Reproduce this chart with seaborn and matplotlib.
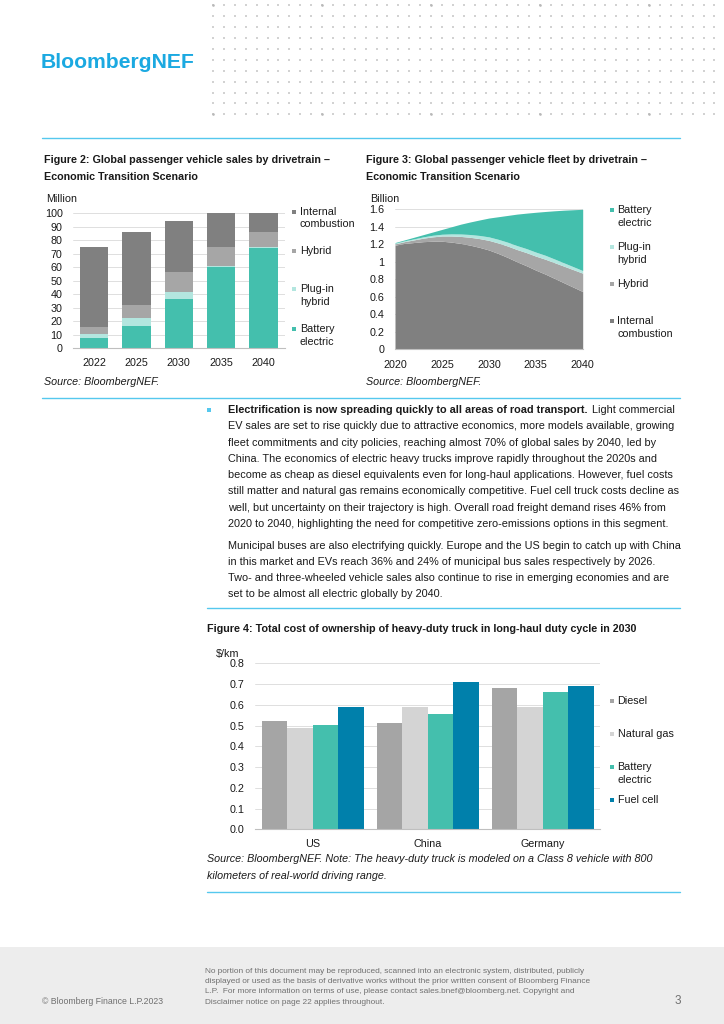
import matplotlib
matplotlib.use("Agg")
import matplotlib.pyplot as plt
from matplotlib.ticker import FuncFormatter, MultipleLocator
import numpy as np
import pandas as pd
import seaborn as sns

# ---- data ----
# Figure 2: global passenger vehicle sales (million)
sales_years = ['2022', '2025', '2030', '2035', '2040']
sales_bev = [7.8, 16.5, 36.6, 60.5, 74.6]
sales_phev = [2.6, 5.8, 5.0, 0.3, 0.2]
sales_hybrid = [5.4, 9.5, 14.6, 14.0, 11.2]
sales_ice = [59.0, 54.0, 38.0, 25.5, 14.0]

# Figure 3: global passenger vehicle fleet (billion)
fleet_years = [2020, 2021, 2022, 2023, 2024, 2025, 2026, 2027, 2028, 2029, 2030,
               2031, 2032, 2033, 2034, 2035, 2036, 2037, 2038, 2039, 2040]
fleet_ice = [1.19, 1.21, 1.22, 1.23, 1.235, 1.235, 1.225, 1.21, 1.19, 1.165, 1.135,
             1.095, 1.05, 1.0, 0.955, 0.905, 0.86, 0.81, 0.76, 0.71, 0.66]
fleet_hybrid = [0.015, 0.02, 0.03, 0.04, 0.05, 0.06, 0.07, 0.08, 0.09, 0.1, 0.11,
                0.12, 0.13, 0.14, 0.15, 0.16, 0.17, 0.18, 0.19, 0.2, 0.21]
fleet_phev = [0.008, 0.01, 0.012, 0.015, 0.018, 0.02, 0.024, 0.028, 0.032, 0.036, 0.04,
              0.042, 0.044, 0.045, 0.046, 0.046, 0.045, 0.042, 0.038, 0.034, 0.03]
fleet_bev = [0.007, 0.01, 0.018, 0.025, 0.037, 0.055, 0.081, 0.112, 0.143, 0.177, 0.215,
             0.258, 0.306, 0.36, 0.405, 0.455, 0.5, 0.551, 0.602, 0.651, 0.7]

# Figure 4: heavy-duty truck TCO in 2030 ($/km)
tco_countries = ['US', 'China', 'Germany']
tco_drivetrains = ['Diesel', 'Natural gas', 'Battery electric', 'Fuel cell']
tco_diesel = [0.524, 0.514, 0.681]
tco_gas = [0.488, 0.590, 0.590]
tco_bev = [0.501, 0.554, 0.660]
tco_fcev = [0.590, 0.708, 0.691]

# colours
C_BEV, C_PHEV, C_HYB, C_ICE = '#44BFAD', '#B3E6DF', '#A6A6A6', '#808080'
C_DIESEL, C_GAS, C_FC = '#A5A5A5', '#D4D4D4', '#0080AB'
C_CYAN = '#55C8EE'
C_TXT = '#1A1A1A'
C_GRID = '#D9D9D9'

sns.set_theme(style='white')
plt.rcParams['font.family'] = ['Liberation Sans', 'DejaVu Sans']

W, H = 724, 1024
fig = plt.figure(figsize=(7.24, 10.24), dpi=100)


def box(x, y, w, h):
    # pixel box (top-left origin) -> figure fraction
    return [x / W, 1 - (y + h) / H, w / W, h / H]


# background axes in pixel coordinates for page decoration
bg = fig.add_axes([0, 0, 1, 1], zorder=-5)
bg.set_xlim(0, W)
bg.set_ylim(H, 0)
bg.axis('off')

# dotted header pattern
gx = 213 + 10.9 * np.arange(48)
gy = 5.3 + 10.9 * np.arange(11)
xx, yy = np.meshgrid(gx, gy)
bg.scatter(xx.ravel(), yy.ravel(), s=0.6, marker='s', color='#D2D2D2', linewidths=0)
bx = gx[::10]
bg.scatter(np.concatenate([bx, bx]), np.concatenate([np.full(len(bx), gy[0]), np.full(len(bx), gy[-1])]),
           s=3.5, marker='o', color='#B8B8B8', linewidths=0)

bg.text(41, 62, 'BloombergNEF', fontsize=15.2, weight='bold', color='#1BA9E1', va='center', ha='left')

# rules
bg.plot([42, 680], [138, 138], color=C_CYAN, lw=1)
bg.plot([42, 680], [398, 398], color=C_CYAN, lw=1)
bg.plot([207, 680], [607.5, 607.5], color=C_CYAN, lw=1)
bg.plot([207, 680], [892, 892], color=C_CYAN, lw=1)

# footer band
bg.fill_between([0, W], 947, H, color='#EDEDED', linewidth=0)
bg.text(42, 1002, '© Bloomberg Finance L.P.2023', fontsize=6.3, color='#707070', va='center')
disclaimer = ['No portion of this document may be reproduced, scanned into an electronic system, distributed, publicly',
              'displayed or used as the basis of derivative works without the prior written consent of Bloomberg Finance',
              'L.P.  For more information on terms of use, please contact sales.bnef@bloomberg.net. Copyright and',
              'Disclaimer notice on page 22 applies throughout.']
for i, line in enumerate(disclaimer):
    bg.text(205, 971.5 + 10.2 * i, line, fontsize=5.95, color='#707070', va='center')
bg.text(681, 1001, '3', fontsize=8.5, color='#707070', va='center', ha='right')

TFS = 7.75  # figure title size
BFS = 7.8   # body text size
LFS = 7.75  # tick / legend size


def title(x, y, lines):
    for i, s in enumerate(lines):
        bg.text(x, y + 17 * i, s, fontsize=TFS, weight='bold', color=C_TXT, va='center')


def legend(x, entries):
    for y, label, col in entries:
        bg.scatter([x + 2], [y], s=10, marker='s', color=col, linewidths=0)
        for k, part in enumerate(label.split('\n')):
            bg.text(x + 8, y + 12.6 * k, part, fontsize=LFS, color=C_TXT, va='center')


def style_axes(ax):
    sns.despine(ax=ax, left=True)
    ax.spines['bottom'].set_color('#BFBFBF')
    ax.spines['bottom'].set_linewidth(0.8)
    ax.yaxis.grid(True, color=C_GRID, lw=0.6)
    ax.set_axisbelow(True)
    ax.set_xlabel('')
    ax.set_ylabel('')
    ax.tick_params(axis='y', length=0, labelsize=LFS, labelcolor=C_TXT, pad=7.5)
    ax.tick_params(axis='x', which='both', labelsize=LFS, labelcolor=C_TXT, color='#BFBFBF')


# ---- Figure 2: stacked bars ----
title(44, 160, ['Figure 2: Global passenger vehicle sales by drivetrain –', 'Economic Transition Scenario'])
bg.text(46, 198.5, 'Million', fontsize=LFS, color=C_TXT, va='center')
ax2 = fig.add_axes(box(73, 213.3, 211.5, 135))
stack = np.cumsum([sales_bev, sales_phev, sales_hybrid, sales_ice], axis=0)
for vals, col in [(stack[3], C_ICE), (stack[2], C_HYB), (stack[1], C_PHEV), (stack[0], C_BEV)]:
    sns.barplot(x=sales_years, y=vals, color=col, saturation=1, width=0.67, ax=ax2,
                linewidth=0, edgecolor='none')
ax2.set_xlim(-0.5, 4.5)
ax2.set_ylim(0, 100)
ax2.yaxis.set_major_locator(MultipleLocator(10))
style_axes(ax2)
ax2.tick_params(axis='x', which='major', length=0, pad=7)
ax2.set_xticks(np.arange(-0.5, 5, 1), minor=True)
ax2.tick_params(axis='x', which='minor', length=3, width=0.8)
legend(292, [(211.7, 'Internal\ncombustion', C_ICE), (251.3, 'Hybrid', C_HYB),
             (289.3, 'Plug-in\nhybrid', C_PHEV), (329, 'Battery\nelectric', C_BEV)])
bg.text(44, 382, 'Source: BloombergNEF.', fontsize=LFS, style='italic', color=C_TXT, va='center')

# ---- Figure 3: stacked area ----
title(366.5, 160, ['Figure 3: Global passenger vehicle fleet by drivetrain –', 'Economic Transition Scenario'])
bg.text(370, 198.5, 'Billion', fontsize=LFS, color=C_TXT, va='center')
ax3 = fig.add_axes(box(395, 209.3, 187.7, 140))
ax3.stackplot(fleet_years, fleet_ice, fleet_hybrid, fleet_phev, fleet_bev,
              colors=[C_ICE, C_HYB, C_PHEV, C_BEV], linewidth=0)
ax3.set_xlim(2020, 2040)
ax3.set_ylim(0, 1.6)
ax3.yaxis.set_major_locator(MultipleLocator(0.2))
ax3.yaxis.set_major_formatter(FuncFormatter(lambda v, p: f'{v:g}'))
ax3.xaxis.set_major_locator(MultipleLocator(5))
ax3.xaxis.set_minor_locator(MultipleLocator(1))
style_axes(ax3)
ax3.tick_params(axis='x', which='both', length=3, width=0.8, pad=5)
legend(609.5, [(210.3, 'Battery\nelectric', C_BEV), (247.3, 'Plug-in\nhybrid', C_PHEV),
               (283.7, 'Hybrid', C_HYB), (321, 'Internal\ncombustion', C_ICE)])
bg.text(366, 382, 'Source: BloombergNEF.', fontsize=LFS, style='italic', color=C_TXT, va='center')

# ---- body text ----
bg.scatter([208.5], [410], s=5, marker='s', color=C_CYAN, linewidths=0)
para1 = ['EV sales are set to rise quickly due to attractive economics, more models available, growing',
         'fleet commitments and city policies, reaching almost 70% of global sales by 2040, led by',
         'China. The economics of electric heavy trucks improve rapidly throughout the 2020s and',
         'become as cheap as diesel equivalents even for long-haul applications. However, fuel costs',
         'still matter and natural gas remains economically competitive. Fuel cell truck costs decline as',
         'well, but uncertainty on their trajectory is high. Overall road freight demand rises 46% from',
         '2020 to 2040, highlighting the need for competitive zero-emissions options in this segment.']
para2 = ['Municipal buses are also electrifying quickly. Europe and the US begin to catch up with China',
         'in this market and EVs reach 36% and 24% of municipal bus sales respectively by 2026.',
         'Two- and three-wheeled vehicle sales also continue to rise in emerging economies and are',
         'set to be almost all electric globally by 2040.']
lead = bg.text(228, 410, 'Electrification is now spreading quickly to all areas of road transport.',
               fontsize=BFS, weight='bold', color=C_TXT, va='center')
renderer = fig.canvas.get_renderer()
lead_end = lead.get_window_extent(renderer=renderer).x1
bg.text(lead_end + 4, 410, 'Light commercial', fontsize=BFS, color=C_TXT, va='center')
for i, line in enumerate(para1):
    bg.text(228, 426.3 + 16.25 * i, line, fontsize=BFS, color=C_TXT, va='center')
for i, line in enumerate(para2):
    bg.text(228, 545.7 + 16.1 * i, line, fontsize=BFS, color=C_TXT, va='center')

# ---- Figure 4: grouped bars ----
title(207.3, 629.3, ['Figure 4: Total cost of ownership of heavy-duty truck in long-haul duty cycle in 2030'])
bg.text(215.5, 654, '$/km', fontsize=LFS, color=C_TXT, va='center')
tco = pd.DataFrame({
    'country': tco_countries * 4,
    'drivetrain': [d for d in tco_drivetrains for _ in tco_countries],
    'cost': tco_diesel + tco_gas + tco_bev + tco_fcev,
})
ax4 = fig.add_axes(box(255.2, 663.3, 345, 166))
sns.barplot(data=tco, x='country', y='cost', hue='drivetrain', hue_order=tco_drivetrains,
            palette=[C_DIESEL, C_GAS, C_BEV, C_FC], saturation=1, width=0.884,
            linewidth=0, edgecolor='none', legend=False, ax=ax4)
ax4.set_xlim(-0.5, 2.5)
ax4.set_ylim(0, 0.8)
ax4.yaxis.set_major_locator(MultipleLocator(0.1))
ax4.yaxis.set_major_formatter(FuncFormatter(lambda v, p: f'{v:.1f}'))
style_axes(ax4)
ax4.tick_params(axis='x', which='major', length=0, pad=7)
ax4.set_xticks(np.arange(-0.5, 3, 1), minor=True)
ax4.tick_params(axis='x', which='minor', length=3, width=0.8)
legend(609.5, [(701, 'Diesel', C_DIESEL), (734.3, 'Natural gas', C_GAS),
               (767.3, 'Battery\nelectric', C_BEV), (800.3, 'Fuel cell', C_FC)])
bg.text(207.3, 859, 'Source: BloombergNEF. Note: The heavy-duty truck is modeled on a Class 8 vehicle with 800',
        fontsize=LFS, style='italic', color=C_TXT, va='center')
bg.text(207.3, 875.7, 'kilometers of real-world driving range.', fontsize=LFS, style='italic', color=C_TXT, va='center')

fig.savefig('out.png', dpi=100)
